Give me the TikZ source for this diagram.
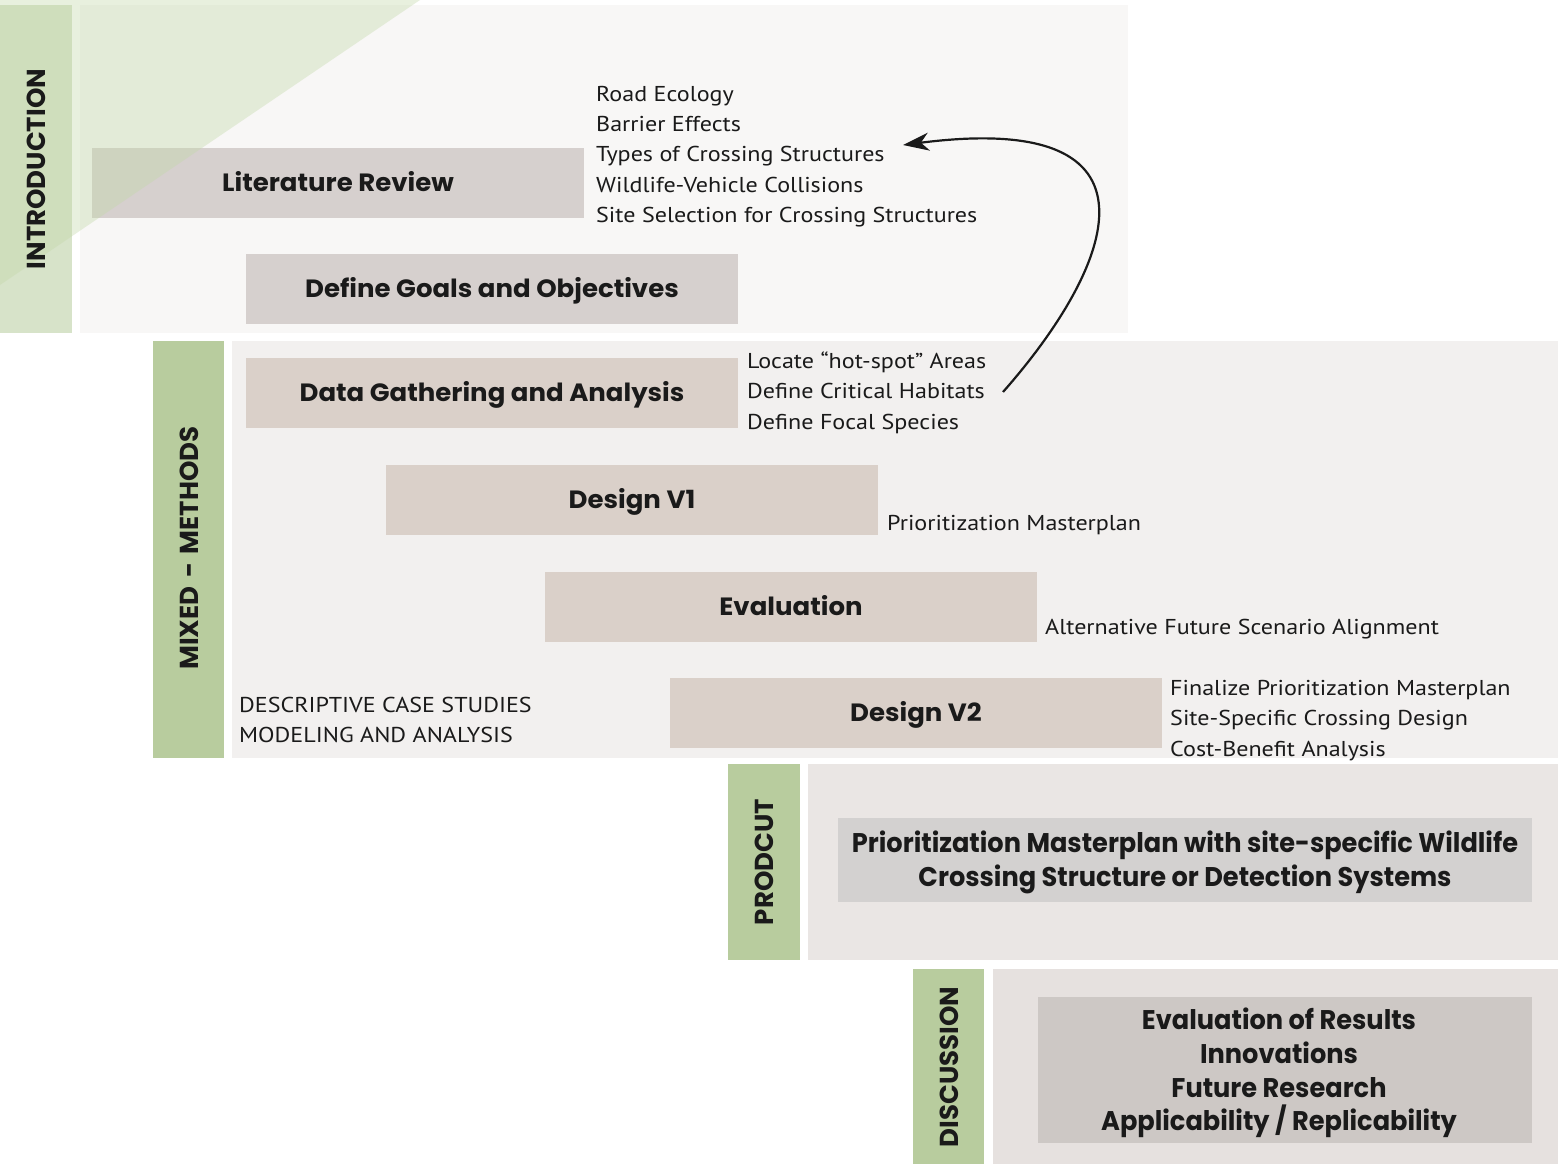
\documentclass[tikz,border=0pt]{standalone}
\usepackage{fontspec}
\usetikzlibrary{arrows.meta}
\newfontfamily\headfont{Poppins}[FakeStretch=1.04]
\newfontfamily\sidefont{Poppins}
\newfontfamily\condfont{Poppins}[FakeStretch=0.95]
\newfontfamily\listfont{PT Sans}[FakeStretch=1.12]
\definecolor{txt}{HTML}{1A1A1A}
\definecolor{introbar}{HTML}{D7E3C9}
\definecolor{greenbar}{HTML}{B8CC9E}
\definecolor{intropanel}{HTML}{F8F7F6}
\definecolor{mixpanel}{HTML}{F2F0EF}
\definecolor{prodpanel}{HTML}{EAE6E4}
\definecolor{discpanel}{HTML}{E6E1DF}
\definecolor{greybox}{HTML}{D6D0CE}
\definecolor{warmbox}{HTML}{DAD0C9}
\definecolor{prodbox}{HTML}{D3D1D0}
\definecolor{discbox}{HTML}{CDC8C5}
\definecolor{tri}{HTML}{C3D8A9}
\tikzset{
  stagebox/.style={fill=#1, inner sep=0pt, minimum width=492pt, minimum height=70pt,
    text height=17.5pt, text depth=0pt,
    text=txt, font=\headfont\bfseries\fontsize{25}{30}\selectfont},
  listtext/.style={anchor=base west, inner sep=0pt, text=txt,
    font=\listfont\fontsize{21.5}{26}\selectfont},
  sidelabel/.style={rotate=90, inner sep=0pt, text=txt,
    font=\sidefont\bfseries\fontsize{26}{30}\selectfont},
  plainbox/.style={fill=#1, inner sep=0pt},
  bigtext/.style={inner sep=0pt, text=txt, align=center,
    font=\condfont\bfseries\fontsize{27}{34}\selectfont},
}
\begin{document}
\begin{tikzpicture}[x=1pt,y=-1pt]
\useasboundingbox (0,0) rectangle (1558,1164);
\fill[white] (0,0) rectangle (1558,1164);
% panels and bars
\fill[introbar] (0,5) rectangle (72,333);
\fill[intropanel] (80,5) rectangle (1128,333);
\fill[greenbar] (153,341) rectangle (224,758);
\fill[mixpanel] (232,341) rectangle (1558,758);
\fill[greenbar] (728,764) rectangle (800,960);
\fill[prodpanel] (808,764) rectangle (1558,960);
\fill[greenbar] (913,969) rectangle (984,1164);
\fill[discpanel] (993,969) rectangle (1558,1164);
% stage boxes
\node[stagebox=greybox] (lit) at (338,183) {Literature Review};
\node[stagebox=greybox] (goals) at (492,289) {Define Goals and Objectives};
\node[stagebox=warmbox] (data) at (492,393) {Data Gathering and Analysis};
\node[stagebox=warmbox] (v1) at (632,500) {Design V1};
\node[stagebox=warmbox] (eval) at (791,606.5) {Evaluation};
\node[stagebox=warmbox] (v2) at (916,713) {Design V2};
\node[plainbox=prodbox, minimum width=694pt, minimum height=84pt] (prod) at (1185,860) {};
\node[bigtext] (prodtext) at (1185,862.5)
  {Prioritization Masterplan with site-specific Wildlife\\Crossing Structure or Detection Systems};
\node[plainbox=discbox, minimum width=494pt, minimum height=146pt] (disc) at (1285,1070) {};
\node[bigtext, font=\condfont\bfseries\fontsize{27}{33.7}\selectfont] (disctext) at (1279,1073)
  {Evaluation of Results\\Innovations\\Future Research\\Applicability / Replicability};
% green triangle overlay
\fill[tri, opacity=0.38] (0,0) -- (420,0) -- (0,285) -- cycle;
% side labels
\node[sidelabel] (lintro) at (36,169) {INTRODUCTION};
\node[sidelabel] (lmix) at (189,548) {MIXED\,\,-\,\,METHODS};
\node[sidelabel] (lprod) at (764,862) {PRODCUT};
\node[sidelabel] (ldisc) at (949,1067) {DISCUSSION};
% lists
\node[listtext] (rl1) at (596,101) {Road Ecology};
\node[listtext] (rl2) at (596,131) {Barrier Effects};
\node[listtext] (rl3) at (596,161.5) {Types of Crossing Structures};
\node[listtext] (rl4) at (596,192) {Wildlife-Vehicle Collisions};
\node[listtext] (rl5) at (596,222) {Site Selection for Crossing Structures};
\node[listtext] (dl1) at (747,368) {Locate “hot-spot” Areas};
\node[listtext] (dl2) at (747,398.5) {Define Critical Habitats};
\node[listtext] (dl3) at (747,429) {Define Focal Species};
\node[listtext] (pm) at (887,530) {Prioritization Masterplan};
\node[listtext] (afs) at (1045,634) {Alternative Future Scenario Alignment};
\node[listtext] (vl1) at (1170,695) {Finalize Prioritization Masterplan};
\node[listtext] (vl2) at (1170,725.5) {Site-Specific Crossing Design};
\node[listtext] (vl3) at (1170,756) {Cost-Benefit Analysis};
\node[listtext] (cs1) at (239,712) {DESCRIPTIVE CASE STUDIES};
\node[listtext] (cs2) at (239,742) {MODELING AND ANALYSIS};
% feedback arrow
\coordinate (arrS) at (1003,392);
\coordinate (arrE) at (903,145);
\draw[txt, line width=2.2pt, -{Stealth[length=26pt,width=18pt,inset=8pt]}]
  (arrS) .. controls (1115,265) and (1175,110) .. (arrE);
\end{tikzpicture}
\end{document}
